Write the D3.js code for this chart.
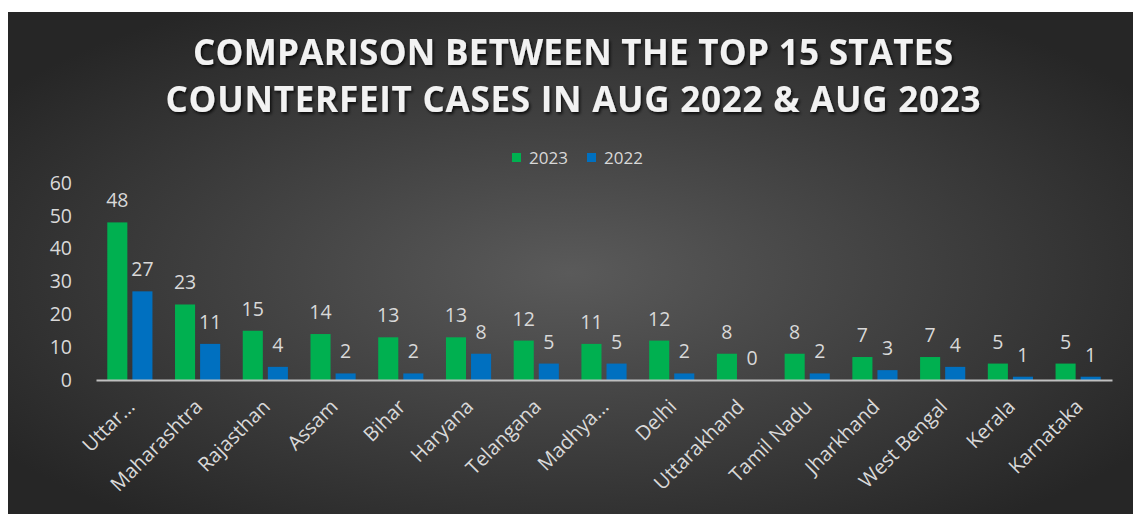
<!DOCTYPE html>
<html>
<head>
<meta charset="utf-8">
<script src="https://cdn.jsdelivr.net/npm/d3@7"></script>
<style>
  html, body { margin: 0; padding: 0; background: #ffffff; }
  svg { display: block; }
</style>
</head>
<body>
<svg id="chart"></svg>
<script>
const states = ['Uttar...', 'Maharashtra', 'Rajasthan', 'Assam', 'Bihar', 'Haryana', 'Telangana',
    'Madhya...', 'Delhi', 'Uttarakhand', 'Tamil Nadu', 'Jharkhand', 'West Bengal', 'Kerala', 'Karnataka'];
const cases2023 = [48, 23, 15, 14, 13, 13, 12, 11, 12, 8, 8, 7, 7, 5, 5];
const cases2022 = [27, 11, 4, 2, 2, 8, 5, 5, 2, 0, 2, 3, 4, 1, 1];
const seriesNames = ['2023', '2022'];
const yTicks = [0, 10, 20, 30, 40, 50, 60];
const titleLines = ['COMPARISON BETWEEN THE TOP 15 STATES', 'COUNTERFEIT CASES IN AUG 2022 & AUG 2023'];

const width = 1133, height = 514;
const colors = { '2023': '#00b050', '2022': '#0070c0' };
const labelColor = '#d9d9d9';
const font = '"Open Sans", sans-serif';

const rows = states.map((s, i) => ({ state: s, '2023': cases2023[i], '2022': cases2022[i] }));

const svg = d3.select('#chart')
    .attr('width', width)
    .attr('height', height);

const defs = svg.append('defs');
const grad = defs.append('radialGradient')
    .attr('id', 'bg')
    .attr('cx', '50%').attr('cy', '52%').attr('r', '62%');
grad.append('stop').attr('offset', '0%').attr('stop-color', '#5a5a5a');
grad.append('stop').attr('offset', '100%').attr('stop-color', '#262626');

const shadow = defs.append('filter').attr('id', 'shadow')
    .attr('x', '-5%').attr('y', '-20%').attr('width', '110%').attr('height', '150%');
shadow.append('feDropShadow')
    .attr('dx', 1.5).attr('dy', 2).attr('stdDeviation', 1.5)
    .attr('flood-color', '#000').attr('flood-opacity', 0.8);

// panel
svg.append('rect')
    .attr('x', 8).attr('y', 12)
    .attr('width', width - 8).attr('height', height - 12)
    .attr('fill', 'url(#bg)');

// title
svg.append('g')
    .selectAll('text')
    .data(titleLines)
    .enter()
    .append('text')
    .attr('x', 573)
    .attr('y', (d, i) => 65 + i * 47)
    .attr('text-anchor', 'middle')
    .attr('textLength', (d, i) => i === 0 ? 760 : 815)
    .attr('lengthAdjust', 'spacing')
    .style('font-family', font)
    .style('font-weight', 700)
    .style('font-size', '35px')
    .style('fill', '#f2f2f2')
    .attr('filter', 'url(#shadow)')
    .text(d => d);

// scales
const x0 = d3.scaleBand()
    .domain(states)
    .range([96, 1112]);

const x1 = d3.scaleBand()
    .domain(seriesNames)
    .range([0, x0.bandwidth()])
    .paddingInner(0.2)
    .paddingOuter(0.45);

const y = d3.scaleLinear()
    .domain([0, 60])
    .range([380, 183]);

// y axis
const yAxis = svg.append('g')
    .attr('transform', 'translate(80,0)')
    .call(d3.axisLeft(y).tickValues(yTicks).tickSize(0).tickPadding(8));
yAxis.select('.domain').remove();
yAxis.selectAll('text')
    .style('font-family', font)
    .style('font-size', '19.5px')
    .style('fill', labelColor)
    .attr('dx', '0');

// bars
const groups = svg.append('g')
    .selectAll('g')
    .data(rows)
    .enter()
    .append('g')
    .attr('transform', d => `translate(${x0(d.state)},0)`);

groups.selectAll('rect')
    .data(d => seriesNames.map(k => ({ key: k, value: d[k] })))
    .enter()
    .append('rect')
    .attr('x', d => x1(d.key))
    .attr('y', d => y(d.value))
    .attr('width', x1.bandwidth())
    .attr('height', d => y(0) - y(d.value))
    .attr('fill', d => colors[d.key]);

groups.selectAll('.value')
    .data(d => seriesNames.map(k => ({ key: k, value: d[k] })))
    .enter()
    .append('text')
    .attr('class', 'value')
    .attr('x', d => x1(d.key) + x1.bandwidth() / 2)
    .attr('y', d => y(d.value) - 15)
    .attr('text-anchor', 'middle')
    .style('font-family', font)
    .style('font-size', '19.5px')
    .style('fill', labelColor)
    .text(d => d.value);

// x axis
const xAxis = svg.append('g')
    .attr('transform', 'translate(0,380)')
    .call(d3.axisBottom(x0).tickSize(0).tickPadding(0));
xAxis.select('.domain')
    .attr('stroke', '#bfbfbf')
    .attr('stroke-width', 2);
xAxis.selectAll('.tick text')
    .attr('y', 0)
    .attr('dy', 0)
    .attr('transform', 'translate(6,28) rotate(-45)')
    .attr('text-anchor', 'end')
    .style('font-family', font)
    .style('font-size', '20px')
    .style('fill', labelColor);

// legend
const legend = svg.append('g')
    .selectAll('g')
    .data(seriesNames)
    .enter()
    .append('g')
    .attr('transform', (d, i) => `translate(${512 + i * 75},153)`);
legend.append('rect')
    .attr('width', 9).attr('height', 9)
    .attr('fill', d => colors[d]);
legend.append('text')
    .attr('x', 17)
    .attr('y', 11)
    .style('font-family', font)
    .style('font-size', '17px')
    .style('fill', labelColor)
    .text(d => d);
</script>
</body>
</html>
